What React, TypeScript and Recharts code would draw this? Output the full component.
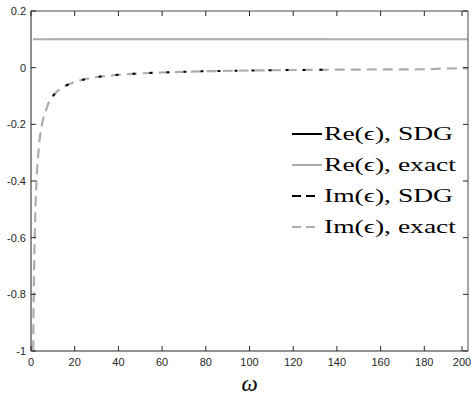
import { Legend, Line, LineChart, XAxis, YAxis } from "recharts";

// frequency samples (omega) and read-off values
const OMEGA_EXACT = [0.9, 1, 1.2, 1.5, 2, 2.5, 3, 4, 5, 6, 8, 10, 12, 15, 20, 25, 30, 40, 50, 60, 80, 100, 120, 140, 160, 180, 190, 200];
const IM_EXACT = [-1.11, -1, -0.83, -0.67, -0.5, -0.4, -0.33, -0.25, -0.2, -0.167, -0.125, -0.1, -0.083, -0.067, -0.05, -0.04, -0.033, -0.025, -0.02, -0.017, -0.0125, -0.01, -0.0083, -0.0071, -0.0063, -0.0056, -0.003, -0.002];
const RE_EXACT = [0.1, 0.1, 0.1, 0.1, 0.1, 0.1, 0.1, 0.1, 0.1, 0.1, 0.1, 0.1, 0.1, 0.1, 0.1, 0.1, 0.1, 0.1, 0.1, 0.1, 0.1, 0.1, 0.1, 0.1, 0.1, 0.1, 0.1, 0.1];

const OMEGA_SDG = [10, 12, 15, 20, 25, 30, 40, 50, 60, 80, 100, 120, 135];
const IM_SDG = [-0.1, -0.083, -0.066, -0.05, -0.04, -0.033, -0.025, -0.02, -0.017, -0.0125, -0.01, -0.0083, -0.0074];
const RE_SDG = [0.1, 0.1, 0.1, 0.1, 0.1, 0.1, 0.1, 0.1, 0.1, 0.1, 0.1, 0.1, 0.1];

const X_TICKS = [0, 20, 40, 60, 80, 100, 120, 140, 160, 180, 200];
const Y_TICKS = [-1, -0.8, -0.6, -0.4, -0.2, 0, 0.2];

const GRAY = "#adadad";
const AXIS = "#262626";

const SERIES = [
  { key: "reSdg", name: "Re(\u03f5), SDG", color: "#000", dash: undefined as string | undefined },
  { key: "reExact", name: "Re(\u03f5), exact", color: GRAY, dash: undefined as string | undefined },
  { key: "imSdg", name: "Im(\u03f5), SDG", color: "#000", dash: "9 5 9 10" },
  { key: "imExact", name: "Im(\u03f5), exact", color: GRAY, dash: "9 5 9 10" },
];

const exactRe = OMEGA_EXACT.map((w, i) => ({ w, v: RE_EXACT[i] }));
const exactIm = OMEGA_EXACT.map((w, i) => ({ w, v: IM_EXACT[i] }));
const sdgRe = OMEGA_SDG.map((w, i) => ({ w, v: RE_SDG[i] }));
const sdgIm = OMEGA_SDG.map((w, i) => ({ w, v: IM_SDG[i] }));

const tickFont = { fontFamily: "'Liberation Sans', Arial, sans-serif", fontSize: 11, fill: AXIS };

function BottomTick({ x, y, payload }: any) {
  return (
    <g>
      <line x1={x} x2={x} y1={y} y2={y - 5} stroke={AXIS} />
      <text x={x} y={y + 15} textAnchor="middle" {...tickFont}>{payload.value}</text>
    </g>
  );
}
function TopTick({ x, y }: any) {
  return <line x1={x} x2={x} y1={y} y2={y + 5} stroke={AXIS} />;
}
function LeftTick({ x, y, payload }: any) {
  return (
    <g>
      <line x1={x} x2={x + 5} y1={y} y2={y} stroke={AXIS} />
      <text x={x - 5} y={y + 4} textAnchor="end" {...tickFont}>{payload.value}</text>
    </g>
  );
}
function RightTick({ x, y }: any) {
  return <line x1={x} x2={x - 5} y1={y} y2={y} stroke={AXIS} />;
}

function OmegaLabel({ viewBox }: any) {
  const cx = viewBox.x + viewBox.width / 2;
  return (
    <text x={cx} y={viewBox.y + 40} textAnchor="middle" fontFamily="'Liberation Serif', serif" fontStyle="italic" fontSize={23} fill="#000">
      {"\u03c9"}
    </text>
  );
}

function LegendBox() {
  return (
    <div style={{ fontFamily: "'Liberation Serif', 'DejaVu Serif', serif", fontSize: 19, color: "#000" }}>
      {SERIES.map((s) => (
        <div key={s.key} style={{ display: "flex", alignItems: "center", height: 31 }}>
          <svg width={31} height={10} style={{ marginRight: 1, flex: "none" }}>
            <line x1={0} x2={30} y1={5} y2={5} stroke={s.color} strokeWidth={2} strokeDasharray={s.dash} />
          </svg>
          <span style={{ whiteSpace: "nowrap", display: "inline-block", transform: "scaleX(1.45)", transformOrigin: "left center" }}>{s.name}</span>
        </div>
      ))}
    </div>
  );
}

export default function App() {
  return (
    <div style={{ position: "absolute", left: 0, top: 0, width: 474, height: 397, background: "#fff" }}>
      <LineChart width={474} height={397} margin={{ top: 10, right: 5, left: 0, bottom: 0 }}>
        <XAxis
          xAxisId="b"
          type="number"
          dataKey="w"
          domain={[0, 200]}
          ticks={X_TICKS}
          allowDataOverflow
          height={46}
          tickSize={0}
          tickMargin={0}
          tickLine={false}
          axisLine={{ stroke: AXIS }}
          tick={<BottomTick />}
          label={<OmegaLabel />}
        />
        <XAxis
          xAxisId="t"
          orientation="top"
          type="number"
          dataKey="w"
          domain={[0, 200]}
          ticks={X_TICKS}
          allowDataOverflow
          height={1}
          tickSize={0}
          tickMargin={0}
          tickLine={false}
          axisLine={{ stroke: "#4a4a4a" }}
          tick={<TopTick />}
        />
        <YAxis
          yAxisId="l"
          type="number"
          domain={[-1, 0.2]}
          ticks={Y_TICKS}
          allowDataOverflow
          width={31}
          tickSize={0}
          tickMargin={0}
          tickLine={false}
          axisLine={{ stroke: "#8f8f8f", strokeWidth: 2 }}
          tick={<LeftTick />}
        />
        <YAxis
          yAxisId="r"
          orientation="right"
          type="number"
          domain={[-1, 0.2]}
          ticks={Y_TICKS}
          allowDataOverflow
          width={1}
          tickSize={0}
          tickMargin={0}
          tickLine={false}
          axisLine={{ stroke: "#4a4a4a" }}
          tick={<RightTick />}
        />
        <Line xAxisId="b" yAxisId="l" data={sdgRe} dataKey="v" name={SERIES[0].name} stroke="#000" strokeWidth={1} dot={false} isAnimationActive={false} />
        <Line xAxisId="b" yAxisId="l" data={exactRe} dataKey="v" name={SERIES[1].name} stroke={GRAY} strokeWidth={2} dot={false} isAnimationActive={false} />
        {/* same exact curve bound to the mirrored frame axes so they are drawn */}
        <Line xAxisId="t" yAxisId="r" data={exactRe} dataKey="v" stroke="none" legendType="none" dot={false} activeDot={false} isAnimationActive={false} />
        <Line xAxisId="b" yAxisId="l" data={exactIm} dataKey="v" name={SERIES[3].name} stroke={GRAY} strokeWidth={2.2} strokeDasharray="10 6" dot={false} isAnimationActive={false} />
        <Line xAxisId="b" yAxisId="l" data={sdgIm} dataKey="v" name={SERIES[2].name} stroke="#000" strokeWidth={2} strokeDasharray="3 14" dot={false} isAnimationActive={false} />
        <Legend
          layout="vertical"
          align="center"
          verticalAlign="middle"
          content={<LegendBox />}
          wrapperStyle={{ left: 292, top: 118, width: 180 }}
        />
      </LineChart>
    </div>
  );
}
